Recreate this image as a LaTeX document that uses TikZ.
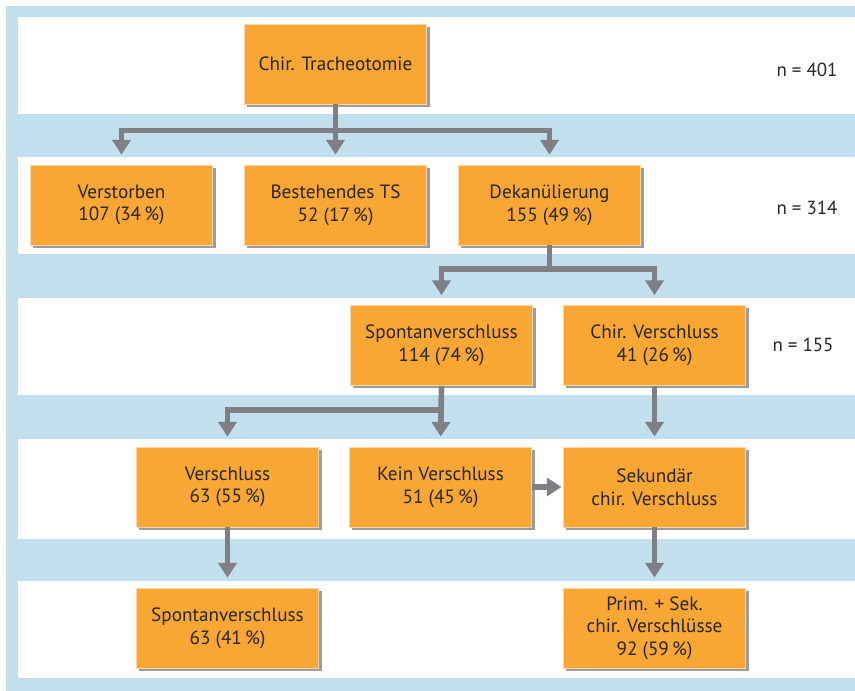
\documentclass[tikz,border=0pt]{standalone}
\usepackage{fontspec}
\setmainfont{PT Sans}
\usetikzlibrary{arrows.meta,shadows}
\definecolor{bandblue}{HTML}{C2DFEE}
\definecolor{boxorange}{HTML}{F8A634}
\definecolor{boxedge}{HTML}{FCD6A6}
\definecolor{arrowgray}{HTML}{7F7F84}
\definecolor{txt}{HTML}{262626}
\tikzset{
  x=0.75pt, y=-0.75pt,
  box/.style={rectangle, fill=boxorange, draw=boxedge, line width=0.6pt,
    minimum width=137pt, minimum height=60pt, inner sep=0pt, align=center,
    text=txt, font=\fontsize{14.4}{17}\selectfont,
    drop shadow={shadow xshift=2.2pt, shadow yshift=-2.2pt, fill=black!55, opacity=0.7}},
  nlabel/.style={text=txt, font=\fontsize{14.2}{17}\selectfont, inner sep=0pt},
  line/.style={draw=arrowgray, line width=4.2pt, line join=miter},
  conn/.style={line, -{Triangle[width=13.5pt,length=11pt]}, shorten >=7.5pt},
}
\begin{document}
\begin{tikzpicture}
\useasboundingbox (0,0) rectangle (855,691);
\fill[white] (0,0) rectangle (855,691);
\fill[bandblue] (6,6) rectangle (855,691);
\foreach \a/\b in {17/114,157/254,298/395,439/539,581/678}
  \fill[white] (18,\a) rectangle (855,\b);

\node[box] (tr) at (335.5,64) {Chir. Tracheotomie};
\node[box] (vs) at (121.5,205) {Verstorben\\107 (34\,\%)};
\node[box] (bt) at (335.5,205) {Bestehendes TS\\52 (17\,\%)};
\node[box] (dk) at (549.5,205) {Dekanülierung\\155 (49\,\%)};
\node[box] (sp) at (441.5,345.5) {Spontanverschluss\\114 (74\,\%)};
\node[box] (cv) at (654.5,345.5) {Chir. Verschluss\\41 (26\,\%)};
\node[box] (ve) at (227.5,487) {Verschluss\\63 (55\,\%)};
\node[box] (kv) at (440.5,487) {Kein Verschluss\\51 (45\,\%)};
\node[box] (sk) at (654.5,487) {Sekundär\\chir. Verschluss};
\node[box] (sp2) at (227.5,628) {Spontanverschluss\\63 (41\,\%)};
\node[box] (ps) at (654.5,628) {Prim. + Sek.\\chir. Verschlüsse\\92 (59\,\%)};

\node[nlabel] (n1) at (807,70) {n = 401};
\node[nlabel] (n2) at (807,208) {n = 314};
\node[nlabel] (n3) at (803,345) {n = 155};

\coordinate (j1) at (335.5,130.5);
\draw[line] (tr.south) -- (j1);
\draw[conn] (j1) -| (vs.north);
\draw[conn] (j1) -| (dk.north);
\draw[conn] (tr.south) -- (bt.north);

\coordinate (j2) at (549.5,269);
\draw[line] (dk.south) -- (j2);
\draw[conn] (j2) -| (sp.north);
\draw[conn] (j2) -| (cv.north);

\coordinate (j3) at (441.5,410);
\draw[line] (sp.south) -- (j3);
\draw[conn] (j3) -| (ve.north);
\draw[conn] (sp.south) -- (kv.north);
\draw[conn] (cv.south) -- (sk.north);

\draw[conn, shorten >=1pt] (kv.east) -- (sk.west);
\draw[conn] (ve.south) -- (sp2.north);
\draw[conn] (sk.south) -- (ps.north);
\end{tikzpicture}
\end{document}
